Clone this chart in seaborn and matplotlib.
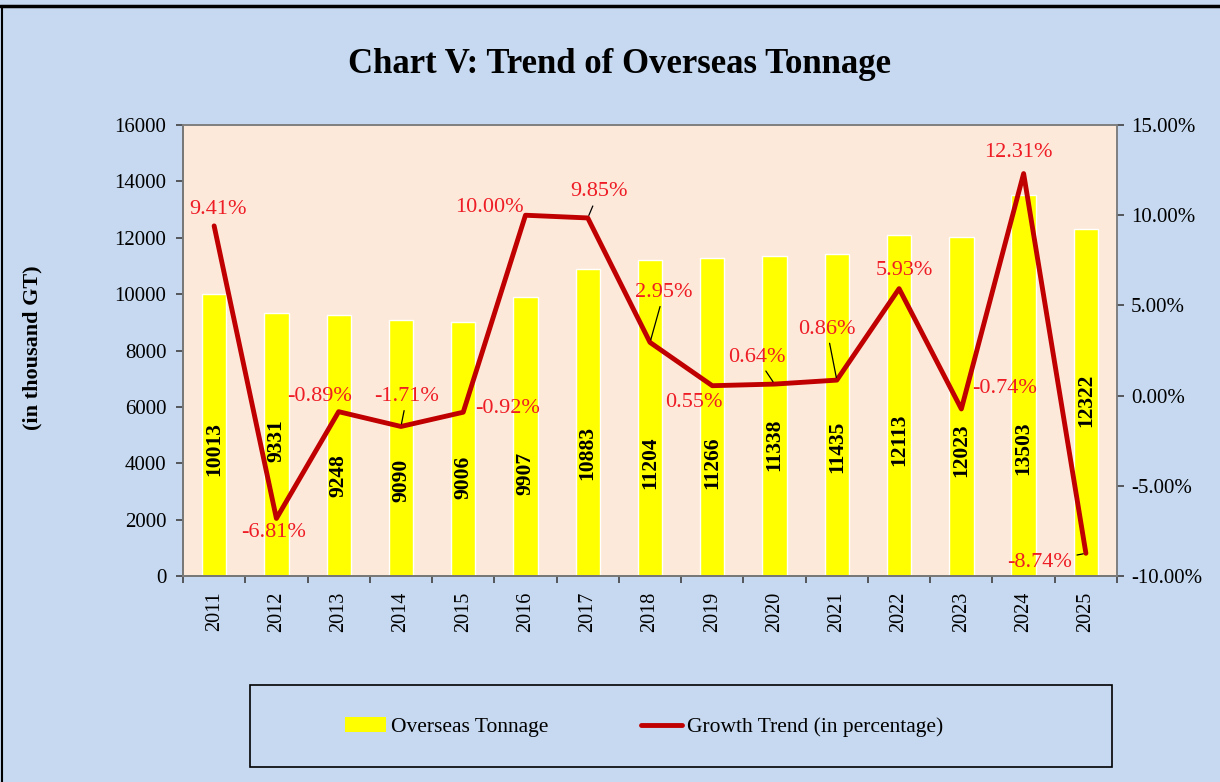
import numpy as np
import pandas as pd
import seaborn as sns
import matplotlib.pyplot as plt
from matplotlib.patches import Rectangle, Patch
from matplotlib.lines import Line2D

years = ["2011", "2012", "2013", "2014", "2015", "2016", "2017", "2018",
         "2019", "2020", "2021", "2022", "2023", "2024", "2025"]
tonnage = [10013, 9331, 9248, 9090, 9006, 9907, 10883, 11204,
           11266, 11338, 11435, 12113, 12023, 13503, 12322]
growth = [9.41, -6.81, -0.89, -1.71, -0.92, 10.00, 9.85, 2.95,
          0.55, 0.64, 0.86, 5.93, -0.74, 12.31, -8.74]

# where the vertical value labels sit inside the bars (data units, centre)
bar_label_y = [4500, 4820, 3580, 3400, 3510, 3650, 4360, 4010,
               4010, 4650, 4580, 4820, 4470, 4540, 6240]
# percent label offsets in pixels (dx, dy) and whether a leader line is drawn
pct_offsets = [(4, 16), (-3, -14), (-19, 15), (6, 30), (44, 4), (-36, 8),
               (11, 26), (14, 50), (-18, -17), (-18, 27), (-10, 51), (5, 18),
               (43, 20), (-5, 21), (-46, -9)]
leaders = [False, False, False, True, False, False, True, True,
           False, True, True, False, False, False, True]

sns.set_theme(style="white")
plt.rcParams["font.family"] = ["Liberation Serif", "DejaVu Serif"]
plt.rcParams["text.color"] = "black"
plt.rcParams["xtick.color"] = "black"
plt.rcParams["ytick.color"] = "black"

BG = "#C6D9F0"
PLOT_BG = "#FDE9D9"
YELLOW = "#FFFF00"
DARKRED = "#C00000"
RED = "#EE1C25"

df = pd.DataFrame({"year": years, "tonnage": tonnage, "growth": growth})
df["pos"] = np.arange(len(df))

fig = plt.figure(figsize=(12.2, 7.82), dpi=100, facecolor=BG)
ax = fig.add_axes([0.15, 0.2634, 0.7656, 0.5767])
ax.set_facecolor(PLOT_BG)

sns.barplot(data=df, x="year", y="tonnage", color=YELLOW, width=0.39,
            saturation=1, ax=ax, zorder=2)
ax.set_ylim(0, 16000)
ax.set_yticks(range(0, 16001, 2000))
ax.set_xlim(-0.5, len(years) - 0.5)
ax.set_xlabel("")
ax.set_ylabel("")

for i, v in enumerate(tonnage):
    ax.text(i, bar_label_y[i], str(v), rotation=90, ha="center", va="center",
            fontsize=15.5, fontweight="bold", color="black", zorder=5)

ax2 = ax.twinx()
sns.lineplot(data=df, x="pos", y="growth", color=DARKRED, linewidth=3.5,
             ax=ax2, zorder=4)
ax2.set_ylim(-10, 15)
ax2.set_yticks(range(-10, 16, 5))
ax2.set_yticklabels([f"{t:.2f}%" for t in range(-10, 16, 5)])
ax2.set_ylabel("")
ax2.set_xlim(-0.5, len(years) - 0.5)

for i, g in enumerate(growth):
    dx, dy = pct_offsets[i]
    arrow = dict(arrowstyle="-", color="black", lw=0.9, shrinkA=1, shrinkB=2) if leaders[i] else None
    ax2.annotate(f"{g:.2f}%", xy=(i, g), xytext=(dx, dy), textcoords="offset pixels",
                 ha="center", va="center", fontsize=16, color=RED,
                 arrowprops=arrow, zorder=6)

for a in (ax, ax2):
    for s in a.spines.values():
        s.set_color("#7F7F7F")
        s.set_linewidth(1.2)
ax.spines["left"].set_color("#404040")
ax.spines["bottom"].set_color("#404040")

ax.set_xticks(np.arange(len(years)))
ax.set_xticklabels(years, rotation=90)
ax.set_xticks(np.arange(-0.5, len(years)), minor=True)
ax.tick_params(axis="x", which="major", length=0, pad=11, labelsize=14.5)
ax.tick_params(axis="x", which="minor", length=5, width=1.2, color="#404040",
               direction="out", bottom=True)
ax.tick_params(axis="y", length=5, width=1.2, color="#404040", direction="out",
               left=True, labelsize=15, pad=7)
ax2.tick_params(axis="y", length=5, width=1.2, color="#404040", direction="out",
                right=True, labelsize=15, pad=5)
ax2.grid(False)
ax.grid(False)

fig.text(0.508, 0.917, "Chart V: Trend of Overseas Tonnage", ha="center",
         va="center", fontsize=25, fontweight="bold")
fig.text(0.027, 0.555, "(in thousand GT)", rotation=90, ha="center",
         va="center", fontsize=16, fontweight="bold")

# legend box
fig.patches.append(Rectangle((250 / 1220, 1 - 767 / 782), 862 / 1220, 82 / 782,
                             transform=fig.transFigure, fill=False,
                             edgecolor="black", linewidth=1.2))
handles = [Patch(facecolor=YELLOW, edgecolor="none", label="Overseas Tonnage"),
           Line2D([0], [0], color=DARKRED, lw=3.5, label="Growth Trend (in percentage)")]
fig.legend(handles=handles, loc="center", bbox_to_anchor=(644 / 1220, 1 - 727 / 782),
           ncol=2, frameon=False, fontsize=15.5, handlelength=1.9,
           handletextpad=0.25, columnspacing=4.3)

# outer border lines (top and left)
fig.add_artist(Line2D([0, 1], [1 - 6 / 782, 1 - 6 / 782], transform=fig.transFigure,
                      color="black", lw=2.5))
fig.add_artist(Line2D([1.5 / 1220, 1.5 / 1220], [0, 1 - 6 / 782], transform=fig.transFigure,
                      color="black", lw=1.5))

fig.savefig("out.png", dpi=100, facecolor=BG)
